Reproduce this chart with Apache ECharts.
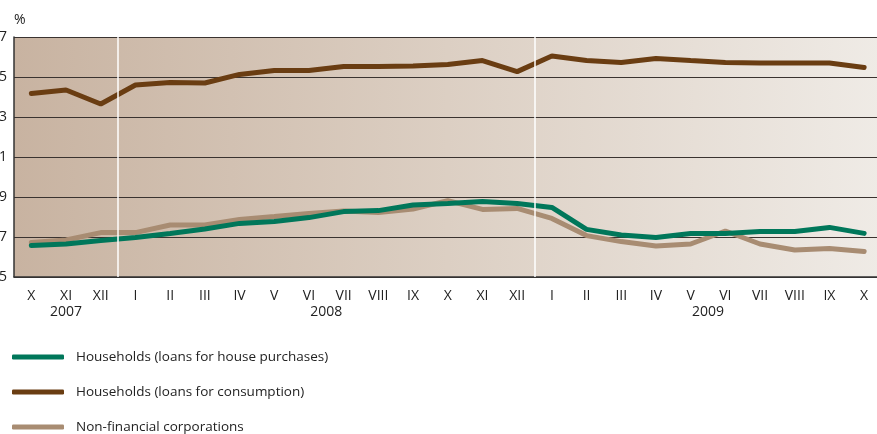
<!DOCTYPE html>
<html>
<head>
<meta charset="utf-8">
<script src="https://cdn.jsdelivr.net/npm/echarts@6/dist/echarts.min.js"></script>
<style>
    html, body { margin: 0; padding: 0; background: #fff; }
    #chart { width: 877px; height: 434px; }
</style>
</head>
<body>
<div id="chart"></div>
<script>
    // months, Oct 2007 .. Oct 2009
    var months = ['X', 'XI', 'XII', 'I', 'II', 'III', 'IV', 'V', 'VI', 'VII', 'VIII', 'IX', 'X',
        'XI', 'XII', 'I', 'II', 'III', 'IV', 'V', 'VI', 'VII', 'VIII', 'IX', 'X'];
    var years = ['2007', '2008', '2009'];
    var yearCenters = [1.5, 9, 20];     // middle of each year's run of months
    var yearBreaks = [3, 15];           // where January starts

    var housePurchases = [6.57, 6.65, 6.82, 6.97, 7.18, 7.4, 7.68, 7.77, 7.97, 8.27, 8.32, 8.6, 8.68,
        8.77, 8.68, 8.48, 7.38, 7.1, 6.97, 7.18, 7.18, 7.27, 7.27, 7.48, 7.18];
    var consumption = [14.18, 14.35, 13.65, 14.6, 14.73, 14.7, 15.13, 15.32, 15.32, 15.52, 15.52, 15.55, 15.63,
        15.82, 15.27, 16.05, 15.82, 15.72, 15.93, 15.82, 15.72, 15.7, 15.7, 15.7, 15.48];
    var corporations = [6.72, 6.85, 7.22, 7.22, 7.6, 7.6, 7.88, 8.02, 8.18, 8.3, 8.22, 8.4, 8.82,
        8.38, 8.43, 7.93, 7.07, 6.77, 6.55, 6.65, 7.3, 6.65, 6.35, 6.43, 6.27];

    var green = '#00775a';
    var darkBrown = '#6a3d12';
    var lightBrown = '#a88c72';
    var font = 'Open Sans';

    var myChart = echarts.init(document.getElementById('chart'));
    myChart.setOption({
        animation: false,
        textStyle: { fontFamily: font },
        grid: {
            left: 14,
            top: 37,
            width: 867.5,
            height: 240,
            outerBoundsMode: 'none',
            containLabel: false,
            show: true,
            borderWidth: 0,
            backgroundColor: new echarts.graphic.LinearGradient(0, 0, 1, 0, [
                { offset: 0, color: '#c8b3a1' },
                { offset: 0.5, color: '#dccfc3' },
                { offset: 1, color: '#efebe6' }
            ])
        },
        legend: {
            orient: 'vertical',
            left: 12,
            top: 350,
            width: 400,
            height: 120,
            padding: 0,
            itemWidth: 52,
            itemHeight: 5,
            itemGap: 21,
            icon: 'roundRect',
            data: ['Households (loans for house purchases)', 'Households (loans for consumption)', 'Non-financial corporations'],
            textStyle: {
                fontFamily: font,
                fontSize: 13.5,
                color: '#222',
                padding: [0, 0, 0, 7]
            }
        },
        xAxis: [{
            type: 'category',
            data: months,
            axisLine: { lineStyle: { color: '#333', width: 1.5 } },
            axisTick: { inside: true, length: 5, lineStyle: { color: '#333' } },
            axisLabel: { color: '#222', fontSize: 14, margin: 12, interval: 0 },
            splitLine: { show: false }
        }, {
            type: 'value',
            min: 0,
            max: months.length,
            position: 'bottom',
            offset: 16,
            axisLine: { show: false },
            axisTick: { show: false },
            splitLine: { show: false },
            axisLabel: {
                color: '#222',
                fontSize: 14,
                margin: 12,
                customValues: yearCenters,
                formatter: function(v) {
                    return years[yearCenters.indexOf(v)];
                }
            }
        }],
        yAxis: {
            type: 'value',
            min: 5,
            max: 17,
            interval: 2,
            name: '%',
            nameGap: 10,
            nameTextStyle: { align: 'left', color: '#222', fontSize: 14, fontFamily: font },
            axisLine: { show: true, lineStyle: { color: '#333', width: 1.5 } },
            axisTick: { show: false },
            axisLabel: { color: '#222', fontSize: 14, margin: 7 },
            splitLine: { lineStyle: { color: '#3a3330', width: 1 } }
        },
        series: [{
            // white lines at the start of each new year
            type: 'line',
            xAxisIndex: 1,
            data: [],
            silent: true,
            markLine: {
                symbol: 'none',
                silent: true,
                label: { show: false },
                lineStyle: { color: '#ffffff', width: 1.5, type: 'solid' },
                data: yearBreaks.map(function(b) { return { xAxis: b }; })
            }
        }, {
            name: 'Households (loans for consumption)',
            type: 'line',
            data: consumption,
            showSymbol: false,
            color: darkBrown,
            lineStyle: { width: 5, color: darkBrown, cap: 'round' }
        }, {
            name: 'Non-financial corporations',
            type: 'line',
            data: corporations,
            showSymbol: false,
            color: lightBrown,
            lineStyle: { width: 5, color: lightBrown, cap: 'round' }
        }, {
            name: 'Households (loans for house purchases)',
            type: 'line',
            data: housePurchases,
            showSymbol: false,
            color: green,
            lineStyle: { width: 5, color: green, cap: 'round' }
        }]
    });
</script>
</body>
</html>
